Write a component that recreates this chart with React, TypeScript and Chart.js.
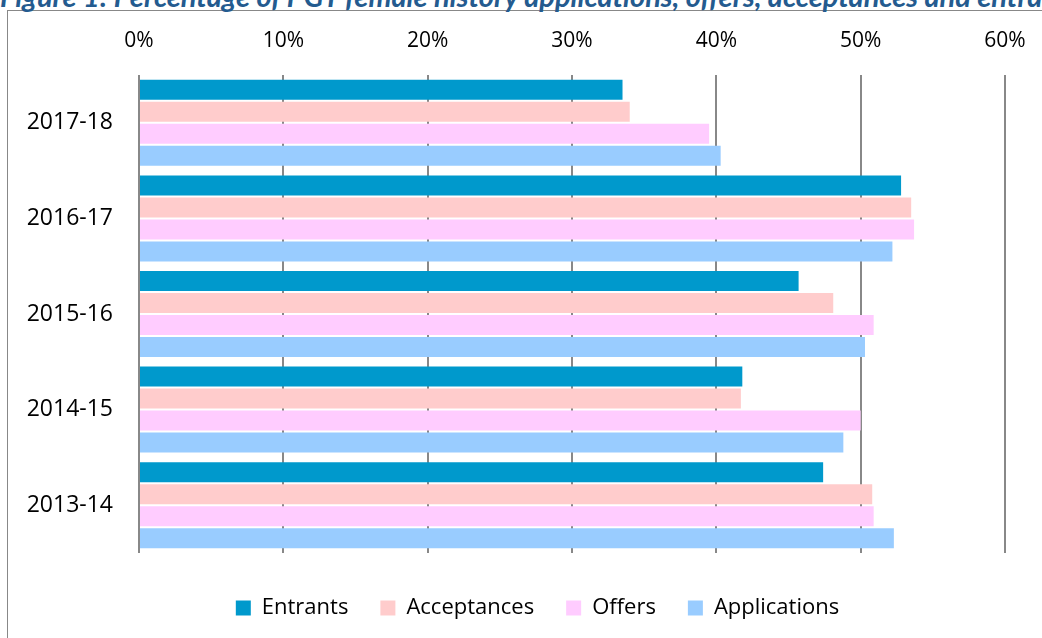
import React, { useEffect, useRef } from "react";
import { Chart, registerables } from "chart.js";

Chart.register(...registerables);

const categories = ["2017-18", "2016-17", "2015-16", "2014-15", "2013-14"];
const entrants = [33.5, 52.8, 45.7, 41.8, 47.4];
const acceptances = [34.0, 53.5, 48.1, 41.7, 50.8];
const offers = [39.5, 53.7, 50.9, 50.0, 50.9];
const applications = [40.3, 52.2, 50.3, 48.8, 52.3];
const seriesNames = ["Entrants", "Acceptances", "Offers", "Applications"];
const seriesColors = ["#0099CC", "#FFCCCC", "#FFCCFF", "#99CCFF"];
const xMin = 0;
const xMax = 60;
const xStep = 10;
const titleText =
  "Figure 1: Percentage of PGT female history applications, offers, acceptances and entrants";

const FONT = "'Open Sans', Lato, sans-serif";
const TITLE_FONT = "Lato, 'Open Sans', sans-serif";

const legendShift = {
  id: "legendShift",
  afterLayout(chart: any) {
    const l = chart.legend;
    if (l) {
      l.left += 35;
      l.right += 35;
    }
  },
};

export default function App() {
  const canvasRef = useRef<HTMLCanvasElement | null>(null);

  useEffect(() => {
    const canvas = canvasRef.current;
    if (!canvas) return;
    const seriesValues = [entrants, acceptances, offers, applications];
    const chart = new Chart(canvas, {
      type: "bar",
      data: {
        labels: categories,
        datasets: seriesNames.map((name, i) => ({
          label: name,
          data: seriesValues[i],
          backgroundColor: seriesColors[i],
          borderWidth: 0,
          categoryPercentage: 0.92,
          barPercentage: 0.91,
        })),
      },
      plugins: [legendShift],
      options: {
        indexAxis: "y",
        animation: false,
        responsive: false,
        maintainAspectRatio: false,
        layout: { padding: { left: 0, right: 37, top: 0, bottom: 9 } },
        plugins: {
          title: { display: false },
          tooltip: { enabled: false },
          legend: {
            display: true,
            position: "bottom",
            title: { display: true, text: "", font: { size: 0 }, padding: { top: 12, bottom: 0 } },
            labels: {
              boxWidth: 15,
              boxHeight: 15,
              padding: 32,
              color: "#000",
              font: { family: FONT, size: 22 },
            },
          },
        },
        scales: {
          x: {
            position: "top",
            min: xMin,
            max: xMax,
            border: { display: false },
            grid: { color: "#888888", lineWidth: 2, drawTicks: false },
            ticks: {
              stepSize: xStep,
              padding: 21,
              color: "#000",
              font: { family: FONT, size: 21 },
              callback: (v: any) => v + "%",
            },
            afterFit: (scale: any) => {
              scale.height = 75;
              scale.paddingLeft = 0;
              scale.paddingRight = 0;
            },
          },
          y: {
            border: { display: false },
            grid: { display: false, drawTicks: false },
            ticks: {
              padding: 26,
              color: "#000",
              font: { family: FONT, size: 23 },
            },
            afterFit: (scale: any) => {
              scale.width = 139;
              scale.paddingTop = 0;
              scale.paddingBottom = 0;
            },
          },
        },
      },
    });
    return () => chart.destroy();
  }, []);

  return (
    <div
      style={{
        position: "fixed",
        left: 0,
        top: 0,
        width: 1042,
        height: 638,
        overflow: "hidden",
        background: "#fff",
      }}
    >
      <div
        style={{
          position: "absolute",
          left: 7,
          top: 10,
          width: 1100,
          height: 700,
          border: "1px solid #888",
          boxSizing: "border-box",
        }}
      />
      <div
        style={{
          position: "absolute",
          left: 0,
          top: -19,
          whiteSpace: "nowrap",
          fontFamily: TITLE_FONT,
          fontStyle: "italic",
          fontWeight: 700,
          fontSize: 29,
          lineHeight: "29px",
          color: "#245B8F",
        }}
      >
        {titleText}
      </div>
      <canvas
        ref={canvasRef}
        width={1042}
        height={638}
        style={{ position: "absolute", left: 0, top: 0, width: 1042, height: 638 }}
      />
    </div>
  );
}
